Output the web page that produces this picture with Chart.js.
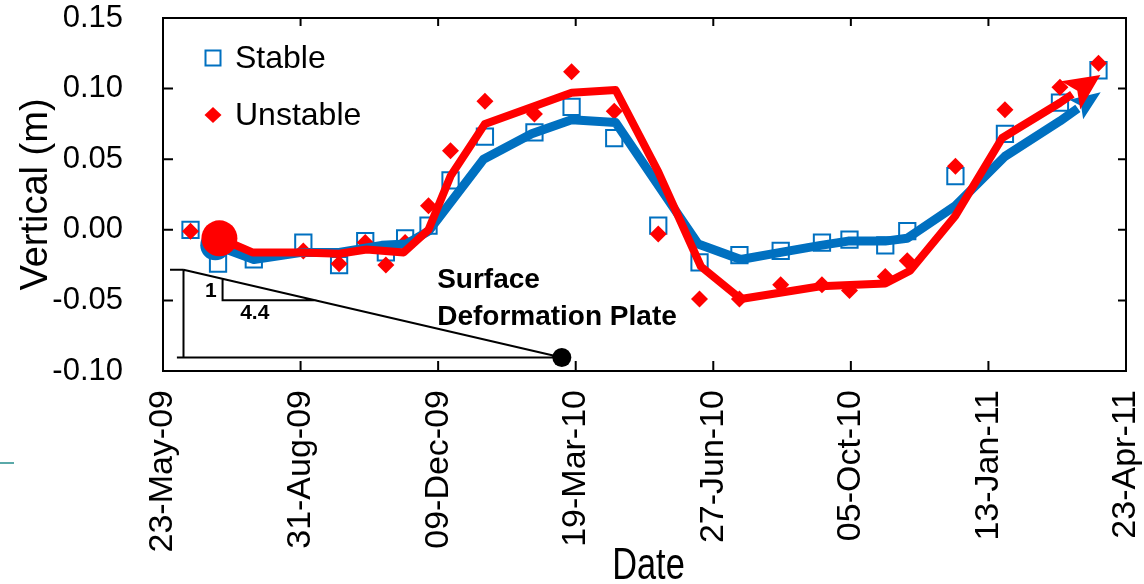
<!DOCTYPE html>
<html>
<head>
<meta charset="utf-8">
<script src="https://cdn.jsdelivr.net/npm/chart.js@4.4.0/dist/chart.umd.min.js"></script>
<style>
  html, body { margin: 0; background: #fff; }
  #wrap { width: 1144px; height: 584px; }
</style>
</head>
<body>
<div id="wrap"><canvas id="chart" width="1144" height="584"></canvas></div>
<script>
// Surface deformation plate - vertical movement

// x values are days after 23-May-09
const xTickLabels = ['23-May-09', '31-Aug-09', '09-Dec-09', '19-Mar-10', '27-Jun-10', '05-Oct-10', '13-Jan-11', '23-Apr-11'];
const yTickLabels = ['-0.10', '-0.05', '0.00', '0.05', '0.10', '0.15'];

const surveyDays = [20, 40, 66, 102, 128, 147, 162, 176, 193, 209, 234, 270, 297, 328, 360, 390, 419, 449, 479, 499, 525, 541, 576, 612, 652, 680];
const stable = [0.000, -0.024, -0.021, -0.009, -0.025, -0.008, -0.016, -0.006, 0.003, 0.035, 0.066, 0.069, 0.087, 0.065, 0.003, -0.023, -0.018, -0.015, -0.009, -0.007, -0.011, -0.001, 0.038, 0.068, 0.090, 0.113];
const unstable = [-0.001, null, null, -0.015, -0.024, -0.009, -0.025, -0.009, 0.017, 0.056, 0.091, 0.082, 0.112, 0.084, -0.003, -0.049, -0.049, -0.039, -0.039, -0.043, -0.033, -0.022, 0.045, 0.085, 0.101, 0.118];

// trend lines (start circle, end arrow)
const stableTrendDays = [38, 66, 101, 128, 159, 177, 193, 233, 268, 297, 329, 389, 420, 449, 478, 498, 525, 541, 576, 612, 652, 665];
const stableTrend = [-0.011, -0.021, -0.016, -0.016, -0.011, -0.010, -0.001, 0.050, 0.068, 0.078, 0.076, -0.010, -0.021, -0.016, -0.011, -0.008, -0.008, -0.006, 0.017, 0.052, 0.077, 0.086];
const unstableTrendDays = [41, 65, 101, 128, 148, 175, 193, 209, 234, 297, 329, 360, 391, 420, 478, 525, 543, 576, 610, 652, 661];
const unstableTrend = [-0.006, -0.016, -0.016, -0.017, -0.014, -0.016, 0.000, 0.038, 0.075, 0.097, 0.099, 0.041, -0.026, -0.049, -0.040, -0.038, -0.029, 0.010, 0.065, 0.090, 0.096];

const BLUE = '#0070C0';
const RED = '#FF0000';
const FONT = "'Liberation Sans', Arial, sans-serif";

const pairs = (xs, ys) => xs.map((x, i) => ({ x, y: ys[i] }));

// plate sketch, in data units (day, metres)
const plate = {
  tick: [5.1, 14.9, -0.0283],
  vert: [14.9, -0.0283, -0.0905],
  base: [10.1, 289.9, -0.0905],
  slope: [14.9, -0.0283, 289.9, -0.0905],
  small: [43.3, -0.0345, -0.0499, 111.4],
};

const overlay = {
  id: 'overlay',
  afterDraw(chart) {
    const { ctx, chartArea: a, scales: { x, y } } = chart;
    ctx.save();

    // frame + inward ticks
    ctx.strokeStyle = '#000';
    ctx.lineWidth = 2;
    ctx.strokeRect(a.left, a.top, a.right - a.left, a.bottom - a.top);
    ctx.beginPath();
    y.ticks.forEach(t => {
      const py = y.getPixelForValue(t.value);
      ctx.moveTo(a.left, py); ctx.lineTo(a.left + 10, py);
      ctx.moveTo(a.right, py); ctx.lineTo(a.right - 8, py);
    });
    x.ticks.forEach(t => {
      const px = x.getPixelForValue(t.value);
      ctx.moveTo(px, a.bottom); ctx.lineTo(px, a.bottom - 10);
      ctx.moveTo(px, a.top); ctx.lineTo(px, a.top + 8);
    });
    ctx.stroke();

    // arrow heads on trend lines
    const arrow = (idx, color, len, half, notch) => {
      const pts = chart.getDatasetMeta(idx).data;
      const p = pts[pts.length - 1], q = pts[pts.length - 2];
      const dx = p.x - q.x, dy = p.y - q.y, d = Math.hypot(dx, dy);
      const ux = dx / d, uy = dy / d, nx = -uy, ny = ux;
      ctx.fillStyle = color;
      ctx.beginPath();
      ctx.moveTo(p.x + ux * len, p.y + uy * len);
      ctx.lineTo(p.x + nx * half - ux * 2, p.y + ny * half - uy * 2);
      ctx.lineTo(p.x + ux * notch, p.y + uy * notch);
      ctx.lineTo(p.x - nx * half - ux * 2, p.y - ny * half - uy * 2);
      ctx.closePath();
      ctx.fill();
    };
    arrow(2, BLUE, 28, 12, 4);
    arrow(3, RED, 34, 17, 6);

    // plate sketch
    const X = v => x.getPixelForValue(v), Y = v => y.getPixelForValue(v);
    ctx.strokeStyle = '#000';
    ctx.lineWidth = 2;
    ctx.beginPath();
    ctx.moveTo(X(plate.tick[0]), Y(plate.tick[2])); ctx.lineTo(X(plate.tick[1]), Y(plate.tick[2]));
    ctx.moveTo(X(plate.vert[0]), Y(plate.vert[1])); ctx.lineTo(X(plate.vert[0]), Y(plate.vert[2]));
    ctx.moveTo(X(plate.base[0]), Y(plate.base[2])); ctx.lineTo(X(plate.base[1]), Y(plate.base[2]));
    ctx.moveTo(X(plate.slope[0]), Y(plate.slope[1])); ctx.lineTo(X(plate.slope[2]), Y(plate.slope[3]));
    ctx.moveTo(X(plate.small[0]), Y(plate.small[1])); ctx.lineTo(X(plate.small[0]), Y(plate.small[2]));
    ctx.lineTo(X(plate.small[3]), Y(plate.small[2]));
    ctx.stroke();
    ctx.fillStyle = '#000';
    ctx.beginPath();
    ctx.arc(X(plate.base[1]), Y(plate.base[2]), 9.5, 0, Math.PI * 2);
    ctx.fill();

    ctx.textBaseline = 'middle';
    ctx.font = `bold 21px ${FONT}`;
    ctx.textAlign = 'right';
    ctx.fillText('1', X(39.1), Y(-0.0436));
    ctx.textAlign = 'center';
    ctx.fillText('4.4', X(66.7), Y(-0.0589));
    ctx.textAlign = 'left';
    ctx.font = `bold 28px ${FONT}`;
    ctx.fillText('Surface', X(199.3), Y(-0.036));
    ctx.fillText('Deformation Plate', X(199.3), Y(-0.0617));

    // legend
    const lx = a.left + 50;
    ctx.strokeStyle = BLUE;
    ctx.lineWidth = 2;
    ctx.strokeRect(lx - 7.5, 50.5, 15, 15);
    ctx.fillStyle = RED;
    ctx.beginPath();
    ctx.moveTo(lx, 107); ctx.lineTo(lx + 8.5, 115); ctx.lineTo(lx, 123); ctx.lineTo(lx - 8.5, 115);
    ctx.closePath();
    ctx.fill();
    ctx.fillStyle = '#000';
    ctx.font = `32px ${FONT}`;
    ctx.fillText('Stable', lx + 22, 59);
    ctx.fillText('Unstable', lx + 22, 116);

    // x axis title, condensed like the source
    ctx.save();
    ctx.translate((a.left + a.right) / 2 + 4, 567);
    ctx.scale(0.78, 1);
    ctx.textAlign = 'center';
    ctx.font = `44px ${FONT}`;
    ctx.fillText('Date', 0, 0);
    ctx.restore();

    // stray mark at left edge of the source figure
    ctx.strokeStyle = '#5aa9a9';
    ctx.lineWidth = 2;
    ctx.beginPath();
    ctx.moveTo(0, 463); ctx.lineTo(14, 463);
    ctx.stroke();

    ctx.restore();
  }
};

new Chart(document.getElementById('chart'), {
  type: 'scatter',
  data: {
    datasets: [
      {
        label: 'Stable',
        data: pairs(surveyDays, stable),
        pointStyle: 'rect',
        pointRadius: 11.5,
        borderColor: BLUE,
        backgroundColor: 'rgba(0,0,0,0)',
        borderWidth: 2,
        order: 3,
      },
      {
        label: 'Unstable',
        data: pairs(surveyDays, unstable),
        pointStyle: 'rectRot',
        pointRadius: 8.5,
        borderColor: RED,
        backgroundColor: RED,
        borderWidth: 0,
        order: 2,
      },
      {
        type: 'line',
        label: 'Stable trend',
        data: pairs(stableTrendDays, stableTrend),
        borderColor: BLUE,
        backgroundColor: BLUE,
        borderWidth: 9,
        borderJoinStyle: 'round',
        tension: 0,
        pointRadius: c => c.dataIndex === 0 ? 15 : 0,
        pointBorderWidth: 0,
        order: 1,
      },
      {
        type: 'line',
        label: 'Unstable trend',
        data: pairs(unstableTrendDays, unstableTrend),
        borderColor: RED,
        backgroundColor: RED,
        borderWidth: 8,
        borderJoinStyle: 'round',
        tension: 0,
        pointRadius: c => c.dataIndex === 0 ? 18 : 0,
        pointBorderWidth: 0,
        order: 0,
      },
    ]
  },
  options: {
    responsive: false,
    animation: false,
    events: [],
    layout: { padding: { top: 12, right: 15, left: 0, bottom: 0 } },
    plugins: { legend: { display: false }, tooltip: { enabled: false } },
    scales: {
      x: {
        type: 'linear',
        min: 0,
        max: 700,
        grid: { display: false },
        border: { display: false },
        ticks: {
          stepSize: 100,
          maxRotation: 90,
          minRotation: 90,
          padding: 11,
          color: '#000',
          font: { family: FONT, size: 34 },
          callback: v => xTickLabels[Math.round(v / 100)],
        },
        title: { display: false, text: 'Date' },
        afterFit: s => {
          s.height = 213;
          s.paddingLeft = 0;
          s.paddingRight = 0;
        },
      },
      y: {
        min: -0.10,
        max: 0.15,
        grid: { display: false },
        border: { display: false },
        ticks: {
          stepSize: 0.05,
          padding: 32,
          color: '#000',
          font: { family: FONT, size: 31 },
          callback: (v, i) => yTickLabels[i],
        },
        title: {
          display: true,
          text: 'Vertical (m)',
          color: '#000',
          padding: { top: 14, bottom: 0 },
          font: { family: FONT, size: 38 },
        },
        afterFit: s => {
          s.width = 163;
          s.paddingTop = 0;
          s.paddingBottom = 0;
        },
      }
    }
  },
  plugins: [overlay]
});
</script>
</body>
</html>
